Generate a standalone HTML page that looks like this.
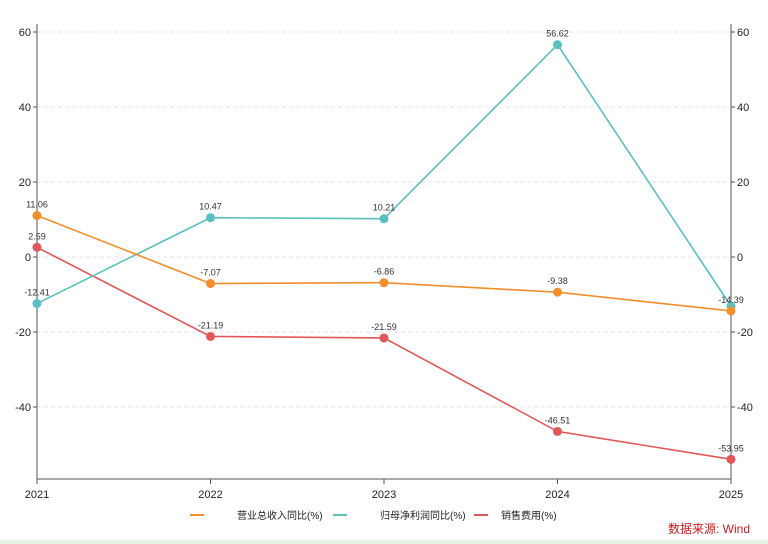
<!DOCTYPE html>
<html><head><meta charset="utf-8"><style>
body{margin:0;background:#fff;width:768px;height:544px;overflow:hidden;font-family:"Liberation Sans","Noto Sans CJK SC",sans-serif}
svg{display:block}
</style></head><body>
<svg id="c" width="768" height="544">
<rect x="0" y="540" width="768" height="4" fill="#e8f3e8"/>
</svg>
<script>
const categories=["2021","2022","2023","2024","2025"];
const revenue=[11.06,-7.07,-6.86,-9.38,-14.39];
const profit=[-12.41,10.47,10.21,56.62,-13.1];
const profitLabels=["-12.41","10.47","10.21","56.62",""];
const selling=[2.59,-21.19,-21.59,-46.51,-53.95];
const yTicks=[60,40,20,0,-20,-40];
const seriesNames=["营业总收入同比(%)","归母净利润同比(%)","销售费用(%)"];
const colors=["#f28e2b","#5bbfc0","#e15759"];
const NS="http://www.w3.org/2000/svg";
const svg=document.getElementById('c');
const L=37,R=731,T=24,B=479;
const xs=i=>L+(R-L)*i/(categories.length-1);
const ys=v=>257-v*3.75;
function el(t,a,p){const e=document.createElementNS(NS,t);for(const k in a)e.setAttribute(k,a[k]);(p||svg).appendChild(e);return e;}
yTicks.forEach(v=>{
 const g=el('line',{x1:L,x2:R,y1:ys(v),y2:ys(v),stroke:'#e3e3e3','stroke-dasharray':'4,3'});
 
 const a=el('text',{x:L-6,y:ys(v)+4,'text-anchor':'end','font-size':11,fill:'#222'});a.textContent=v;
 
 const b=el('text',{x:R+6,y:ys(v)+4,'font-size':11,fill:'#222'});b.textContent=v;
 
 el('line',{x1:L-4,x2:L,y1:ys(v),y2:ys(v),stroke:'#555'});
 el('line',{x1:R,x2:R+4,y1:ys(v),y2:ys(v),stroke:'#555'});
});
let ax=el('line',{x1:L,x2:L,y1:T,y2:B,stroke:'#555'});
ax=el('line',{x1:R,x2:R,y1:T,y2:B,stroke:'#555'});
ax=el('line',{x1:L,x2:R,y1:B,y2:B,stroke:'#555'});
categories.forEach((c,i)=>{
 el('line',{x1:xs(i),x2:xs(i),y1:B,y2:B+5,stroke:'#555'});
 const t=el('text',{x:xs(i),y:B+19,'text-anchor':'middle','font-size':11,fill:'#222'});t.textContent=c;
 
});
function series(data,labels,color,name){
 const p=el('polyline',{points:data.map((v,i)=>xs(i)+','+ys(v)).join(' '),fill:'none',stroke:color,'stroke-width':1.6});
 
 data.forEach((v,i)=>{
  const c=el('circle',{cx:xs(i),cy:ys(v),r:4.5,fill:color});
  
  if(labels[i]){const t=el('text',{x:xs(i),y:ys(v)-8,'text-anchor':'middle','font-size':9,fill:'#333'});t.textContent=labels[i];
  }
 });
}
series(selling,selling.map(String),colors[2],'selling-expense');
series(profit,profitLabels,colors[1],'net-profit-yoy');
series(revenue,revenue.map(String),colors[0],'revenue-yoy');
const lx=[190,333,474];
seriesNames.forEach((n,i)=>{
 const g=el('g',{});
 el('line',{x1:lx[i],x2:lx[i]+14,y1:515,y2:515,stroke:colors[i],'stroke-width':2},g);
 const t=el('text',{x:lx[i]+(i==2?27:47),y:519,'font-size':10,fill:'#222'},g);t.textContent=n;
});
const s=el('text',{x:750,y:533,'text-anchor':'end','font-size':12,fill:'#d0191e'});s.textContent='数据来源: Wind';

</script>
</body></html>
